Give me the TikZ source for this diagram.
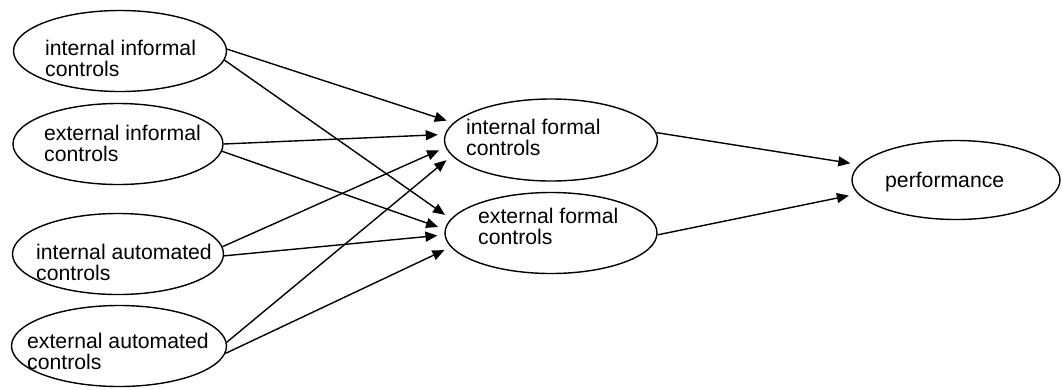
\documentclass[tikz,border=0pt]{standalone}
\usepackage{fontspec}
\setmainfont{Liberation Sans}
\usetikzlibrary{shapes.geometric,arrows.meta}

\begin{document}
\begin{tikzpicture}[x=1pt,y=-1pt,>={Triangle[length=12pt,width=10pt]},
  oval/.style={ellipse,draw,line width=1.4pt,inner sep=0pt,minimum width=213pt,minimum height=81pt},
  lbl/.style={anchor=north west,inner sep=0pt,align=left,font=\fontsize{21.2}{21.5}\selectfont},
  link/.style={->,line width=1.4pt,shorten >=7pt}]
\useasboundingbox (0,0) rectangle (1063,389);

% left column
\node[oval] (ii) at (120,51) {};
\node[oval,minimum width=210pt] (ei) at (118,144) {};
\node[oval,minimum width=211pt] (ia) at (118,254) {};
\node[oval,minimum width=215pt] (ea) at (119,346) {};
\node[lbl] (ii-t) at (45,39.6) {internal informal\\controls};
\node[lbl] (ei-t) at (44,124.6) {external informal\\controls};
\node[lbl] (ia-t) at (36,243.6) {internal automated\\controls};
\node[lbl] (ea-t) at (27,332.6) {external automated\\controls};

% middle
\node[oval,minimum height=82pt] (if) at (551,140) {};
\node[oval,minimum width=212pt] (ef) at (551,233) {};
\node[lbl] (if-t) at (466,118.6) {internal formal\\controls};
\node[lbl] (ef-t) at (478,207.6) {external formal\\controls};

% right
\node[oval,minimum width=208pt,minimum height=79pt] (perf) at (956,180) {};
\node[lbl] (perf-t) at (885,171.6) {performance};

\draw[link] (ii.1) -- (if.170);
\draw[link] (ii.-5) -- (ef.172);
\draw[link] (ei.0) -- (if.177);
\draw[link] (ei.-4) -- (ef.178);
\draw[link] (ia.4) -- (if.-176);
\draw[link] (ia.-1) -- (ef.-179);
\draw[link] (ea.2) -- (if.-171);
\draw[link] (ea.-4) -- (ef.-172);

\draw[link,shorten >=9pt] (if.4) -- (perf.171);
\draw[link,shorten >=9pt] (ef.-1) -- (perf.-172);

\end{tikzpicture}
\end{document}
